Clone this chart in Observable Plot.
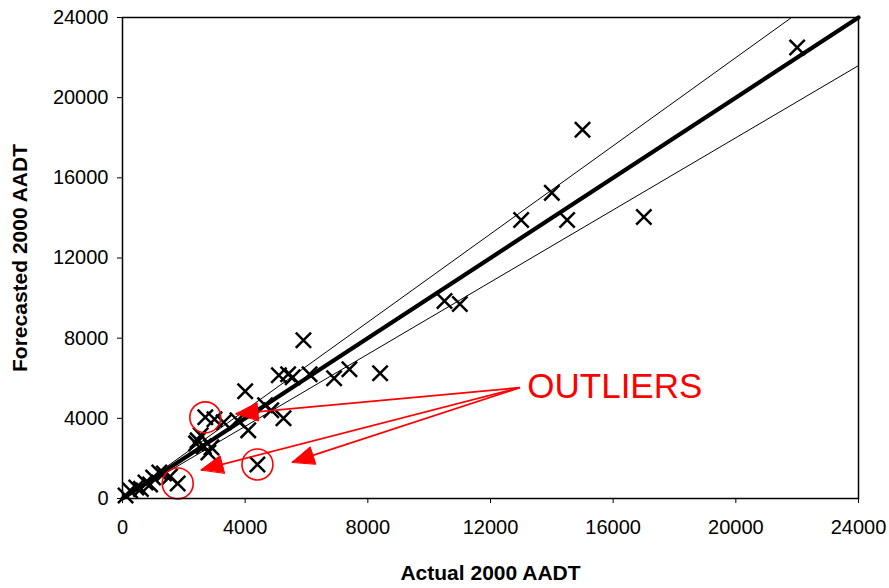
<!DOCTYPE html>
<html>
<head>
<meta charset="utf-8">
<script src="https://cdn.jsdelivr.net/npm/d3@7"></script>
<script src="https://cdn.jsdelivr.net/npm/@observablehq/plot@0.6"></script>
<style>
  html, body { margin: 0; padding: 0; background: #fff; }
  #chart svg { display: block; }
</style>
</head>
<body>
<div id="chart"></div>
<script>
// Actual vs. forecasted 2000 AADT, one entry per count station
const actual = [
  100, 250, 450, 600, 750, 900, 1000, 1200, 1350, 1550, 1800,
  2400, 2450, 2550, 2650, 2800, 2900, 2700, 3000, 3300, 3750, 4100,
  4000, 4400, 4650, 4850, 5100, 5250, 5400, 5550, 5900, 6100, 6900,
  7400, 8400, 10500, 11000, 13000, 14000, 14500, 15000, 17000, 22000
];
const forecast = [
  150, 400, 550, 480, 800, 700, 1050, 1300, 1250, 1100, 750,
  2750, 2900, 3150, 2600, 2300, 2550, 4050, 3950, 3800, 3900, 3400,
  5350, 1700, 4650, 4400, 6150, 4000, 6200, 6050, 7900, 6200, 6000,
  6450, 6250, 9850, 9700, 13900, 15250, 13900, 18400, 14050, 22500
];

// Stations flagged as outliers
const outlierActual = [2700, 4400, 1800];
const outlierForecast = [4050, 1700, 750];

// Perfect-forecast line and the ±10% band around it
const perfectSlope = 1;
const bandSlopes = [0.9, 1.1];

const axisTicks = [0, 4000, 8000, 12000, 16000, 20000, 24000];

const xTitle = "Actual 2000 AADT";
const yTitle = "Forecasted 2000 AADT";

// Annotation: label and arrows pointing to the flagged stations
const noteText = "OUTLIERS";
const noteX = 13200;
const noteY = 5550;
const arrowFromX = 12950;
const arrowFromY = 5530;
const arrowToX = [3700, 2560, 5530];
const arrowToY = [4230, 1430, 1810];

const maxV = d3.max(axisTicks);
const points = actual.map((a, i) => ({a, f: forecast[i]}));
const outliers = outlierActual.map((a, i) => ({a, f: outlierForecast[i]}));
const arrows = arrowToX.map((x, i) => ({x1: arrowFromX, y1: arrowFromY, x2: x, y2: arrowToY[i], k: i}));

function refLine(s) {
  const xEnd = Math.min(maxV, maxV / s);
  return [{s, x: 0, y: 0}, {s, x: xEnd, y: xEnd * s}];
}
const perfect = refLine(perfectSlope);
const band = bandSlopes.flatMap(refLine);

const font = "'Liberation Sans', Arial, Helvetica, sans-serif";

function buildMarks(heads) {
  return [
    Plot.line(band, {x: "x", y: "y", z: "s", stroke: "black", strokeWidth: 1}),
    Plot.line(perfect, {x: "x", y: "y", stroke: "black", strokeWidth: 4.2, strokeLinecap: "round"}),
    Plot.dot(points, {x: "a", y: "f", symbol: "times", r: 7, stroke: "black", strokeWidth: 2.5}),
    Plot.dot(outliers, {x: "a", y: "f", r: 15.5, stroke: "red", strokeWidth: 1.6, fill: "none"}),
    Plot.link(arrows, {x1: "x1", y1: "y1", x2: "x2", y2: "y2", stroke: "red", strokeWidth: 1.8}),
    Plot.line(heads, {x: "x", y: "y", z: "k", fill: "red", stroke: "red", strokeWidth: 1, curve: "linear-closed"}),
    Plot.text([noteText], {x: () => noteX, y: () => noteY, text: d => d, fill: "red", fontSize: 35, textAnchor: "start", lineAnchor: "middle"}),
    Plot.frame({stroke: "black", strokeWidth: 1.5}),
    Plot.text([xTitle], {frameAnchor: "bottom", dy: 75, text: d => d, textAnchor: "middle", lineAnchor: "middle", fontWeight: "bold", fontSize: 21, fill: "black"}),
    Plot.text([yTitle], {frameAnchor: "left", dx: -102, rotate: -90, text: d => d, textAnchor: "middle", lineAnchor: "middle", fontWeight: "bold", fontSize: 21, fill: "black"})
  ];
}

function buildPlot(heads) {
  return Plot.plot({
    width: 889,
    height: 588,
    marginLeft: 122,
    marginRight: 31,
    marginTop: 17,
    marginBottom: 90,
    style: {fontFamily: font, fontSize: "20px", color: "black", background: "white", overflow: "visible"},
    x: {domain: [0, maxV], ticks: axisTicks, tickFormat: d3.format("d"), tickSize: 5, tickPadding: 16, label: null},
    y: {domain: [0, maxV], ticks: axisTicks, tickFormat: d3.format("d"), tickSize: 5, tickPadding: 9, label: null},
    marks: buildMarks(heads)
  });
}

// First pass: read the scales so the arrowheads keep their shape on screen
const draft = buildPlot([]);
const sxDesc = draft.scale("x");
const syDesc = draft.scale("y");
const sx = d3.scaleLinear().domain(sxDesc.domain).range(sxDesc.range);
const sy = d3.scaleLinear().domain(syDesc.domain).range(syDesc.range);

const headLen = 22;
const headHalf = 9;
const heads = arrows.flatMap(a => {
  const px0 = sx(a.x1), py0 = sy(a.y1), px1 = sx(a.x2), py1 = sy(a.y2);
  const len = Math.hypot(px1 - px0, py1 - py0);
  const ux = (px1 - px0) / len, uy = (py1 - py0) / len;
  const bx = px1 - ux * headLen, by = py1 - uy * headLen;
  const verts = [
    [px1, py1],
    [bx - uy * headHalf, by + ux * headHalf],
    [bx + uy * headHalf, by - ux * headHalf]
  ];
  return verts.map(([vx, vy]) => ({k: a.k, x: sx.invert(vx), y: sy.invert(vy)}));
});

document.getElementById("chart").append(buildPlot(heads));
</script>
</body>
</html>
